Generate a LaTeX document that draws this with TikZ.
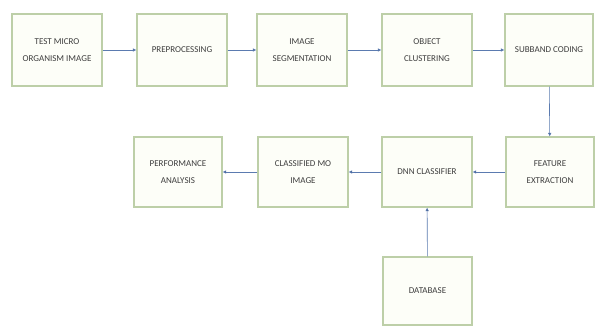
\documentclass[tikz,border=0pt]{standalone}
\usepackage{fontspec}
\setmainfont{Carlito}
\usetikzlibrary{arrows.meta}
\definecolor{boxline}{HTML}{BDCFA8}
\definecolor{boxfill}{HTML}{FDFEF8}
\definecolor{txt}{HTML}{3E3E3E}
\definecolor{arr}{HTML}{5B7BB0}
\definecolor{tip}{HTML}{2E4A80}
\begin{document}
\begin{tikzpicture}[x=1pt,y=-1pt,
  blk/.style={draw=boxline,line width=1.2pt,fill=boxfill,text=txt,font=\fontsize{9}{17}\selectfont,align=center,inner sep=0pt},
  conn/.style={draw=arr,line width=0.6pt,-{Latex[length=3.5pt,width=3.5pt,fill=tip]}}]
\useasboundingbox (0,0) rectangle (596,326);
\fill[white] (0,0) rectangle (596,326);
\node[blk,minimum width=90pt,minimum height=72pt] (b1) at (57,50) {TEST MICRO\\ORGANISM IMAGE};
\node[blk,minimum width=90pt,minimum height=72pt] (b2) at (182,50) {PREPROCESSING};
\node[blk,minimum width=90pt,minimum height=72pt] (b3) at (302,50) {IMAGE\\SEGMENTATION};
\node[blk,minimum width=90pt,minimum height=72pt] (b4) at (427,50) {OBJECT\\CLUSTERING};
\node[blk,minimum width=88pt,minimum height=72pt] (b5) at (549,50) {SUBBAND CODING};
\node[blk,minimum width=88pt,minimum height=70pt] (f) at (550,172) {FEATURE\\EXTRACTION};
\node[blk,minimum width=90pt,minimum height=70pt] (d) at (427,172) {DNN CLASSIFIER};
\node[blk,minimum width=90pt,minimum height=70pt] (c) at (303,172) {CLASSIFIED MO\\IMAGE};
\node[blk,minimum width=88pt,minimum height=70pt] (p) at (178,172) {PERFORMANCE\\ANALYSIS};
\node[blk,minimum width=89pt,minimum height=68pt] (db) at (427.5,291) {DATABASE};
\draw[conn] (b1) -- (b2);
\draw[conn] (b2) -- (b3);
\draw[conn] (b3) -- (b4);
\draw[conn] (b4) -- (b5);
\draw[conn] (b5) -- (f);
\draw[conn] (f) -- (d);
\draw[conn] (d) -- (c);
\draw[conn] (c) -- (p);
\draw[conn] (db) -- (d);
\end{tikzpicture}
\end{document}
